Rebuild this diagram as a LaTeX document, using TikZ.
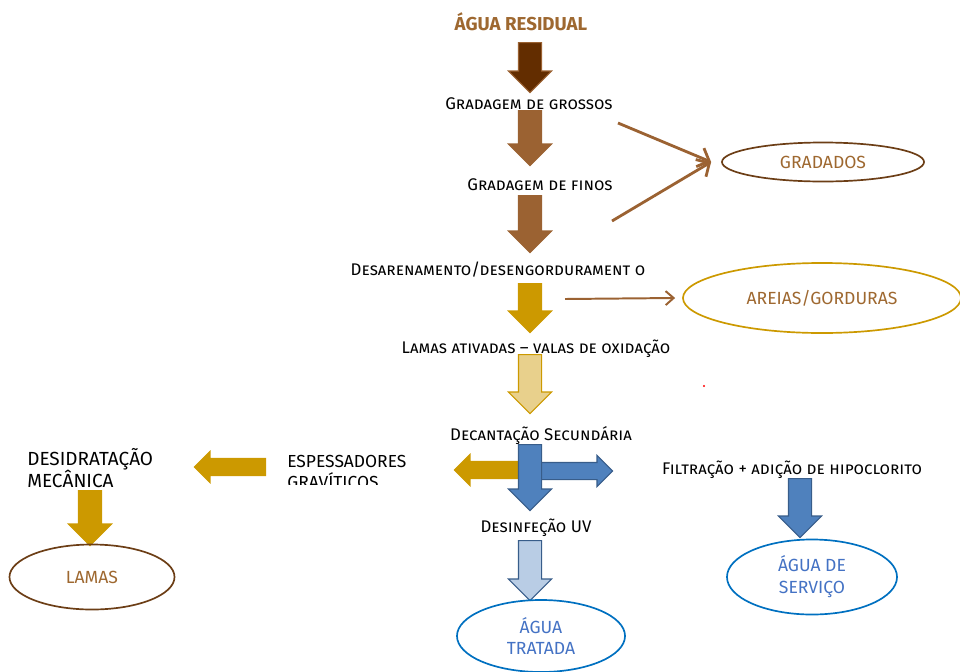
\documentclass[tikz,border=0pt]{standalone}
\usepackage{fontspec}
\setmainfont{Fira Sans}
\usepackage{xcolor}
\definecolor{rustbrown}{RGB}{158, 104, 48}
\definecolor{deepbrown}{RGB}{99, 45, 0}
\definecolor{barkbrown}{RGB}{108, 62, 22}
\definecolor{midbrown}{RGB}{155, 98, 50}
\definecolor{ochre}{RGB}{204, 153, 0}
\definecolor{paleochre}{RGB}{232, 208, 140}
\definecolor{steelblue}{RGB}{79, 129, 189}
\definecolor{navyline}{RGB}{56, 93, 138}
\definecolor{iceblue}{RGB}{185, 205, 229}
\definecolor{ringblue}{RGB}{0, 112, 192}
\definecolor{inkblue}{RGB}{68, 114, 196}
\usepackage{tikz}
\usetikzlibrary{shapes.arrows,shapes.geometric,arrows.meta}

\begin{document}
\begin{tikzpicture}[x=0.025cm,y=-0.025cm,
  etapa/.style={font=\scshape\fontsize{12}{14}\selectfont,text=black,inner sep=1pt},
  caixa/.style={font=\fontsize{12.4}{15}\selectfont,text=black,align=left,inner sep=0pt},
  seta/.style={single arrow,single arrow head extend=2.5mm,inner xsep=0pt,
    inner ysep=2.75mm,line width=0.8pt,anchor=tail},
  setah/.style={single arrow,single arrow head extend=1.75mm,inner xsep=0pt,
    inner ysep=2mm,line width=0.8pt,anchor=tail},
  oval/.style={ellipse,line width=1.2pt,inner sep=0pt,align=center,
    font=\fontsize{12.5}{15.6}\selectfont},
  fina/.style={line width=2pt,midbrown,-{Straight Barb[length=2.5mm,width=5mm]}}]

\useasboundingbox (0,0) rectangle (960,671);

\node[font=\bfseries\fontsize{13.3}{15}\selectfont,text=rustbrown] (res) at (521,22) {ÁGUA RESIDUAL};
\node[seta,rotate=-90,fill=deepbrown,draw=midbrown,minimum height=12.5mm] (s1) at (530,42) {};
\node[etapa] (gg) at (529,104) {Gradagem de grossos};
\node[seta,rotate=-90,fill=midbrown,draw=midbrown,minimum height=13.75mm] (s2) at (530,110) {};
\node[etapa] (gf) at (540,185) {Gradagem de finos};
\node[seta,rotate=-90,fill=midbrown,draw=midbrown,minimum height=14.25mm] (s3) at (530,195) {};
\node[etapa] (des) at (498,270) {Desarenamento/desengordurament o};
\node[seta,rotate=-90,fill=ochre,draw=ochre,minimum height=12.25mm] (s4) at (530,283) {};
\node[etapa] (lam) at (536,349) {Lamas ativadas – valas de oxidação};
\node[seta,rotate=-90,fill=paleochre,draw=ochre,minimum height=14.75mm] (s5) at (530,354) {};
\node[etapa] (dec) at (541,436) {Decantação Secundária};

\node[setah,rotate=180,fill=ochre,draw=ochre,minimum height=16.25mm] (s6) at (520,470) {};
\node[setah,fill=steelblue,draw=navyline,minimum height=18mm] (s7) at (540,471) {};
\node[seta,rotate=-90,fill=steelblue,draw=navyline,minimum height=16.5mm] (s8) at (530,444) {};

\node[etapa] (uv) at (536,528) {Desinfeção UV};
\node[seta,rotate=-90,fill=iceblue,draw=navyline,minimum height=15mm] (s9) at (530,540) {};
\node[oval,draw=ringblue,text=inkblue,minimum width=42mm,minimum height=18mm] (trat) at (541,636) {ÁGUA\\TRATADA};

\node[etapa] (fil) at (792,470) {Filtração + adição de hipoclorito};
\node[seta,rotate=-90,fill=steelblue,draw=navyline,minimum height=14.75mm] (s10) at (800,478) {};
\node[oval,draw=ringblue,text=inkblue,minimum width=42.5mm,minimum height=18.75mm] (serv) at (812,577) {ÁGUA DE\\SERVIÇO};

\begin{scope}
  \clip (280,450) rectangle (420,484);
  \node[caixa,anchor=north west] (esp) at (287,455) {ESPESSADORES\\GRAVÍTICOS};
\end{scope}
\node[setah,rotate=180,fill=ochre,draw=ochre,minimum height=17.75mm] (s11) at (266,467) {};
\node[caixa,font=\fontsize{13.5}{15.6}\selectfont,anchor=north west] (desi) at (27,448) {DESIDRATAÇÃO\\MECÂNICA};
\node[seta,rotate=-90,fill=ochre,draw=ochre,minimum height=13.75mm] (s12) at (90,490) {};
\node[oval,draw=barkbrown,text=rustbrown,minimum width=41.25mm,minimum height=16.25mm] (lamas) at (92,577) {LAMAS};

\node[oval,draw=barkbrown,text=rustbrown,minimum width=50.5mm,minimum height=9.75mm] (grad) at (823,162) {GRADADOS};
\node[oval,draw=ochre,text=rustbrown,minimum width=69.5mm,minimum height=17.5mm] (are) at (822,298) {AREIAS/GORDURAS};

\coordinate (gg-out) at (618,123);
\coordinate (gf-out) at (612,221);
\coordinate (des-out) at (565,299);
\draw[fina] (gg-out) -- ([xshift=-2.5mm]grad.west);
\draw[fina] (gf-out) -- ([xshift=-2.5mm]grad.west);
\draw[fina,line width=1.4pt,-{Straight Barb[length=2mm,width=3.5mm]}] (des-out) -- ([xshift=-1.75mm]are.west);

\fill[red] (704,386) circle (1.2);
\end{tikzpicture}
\end{document}
